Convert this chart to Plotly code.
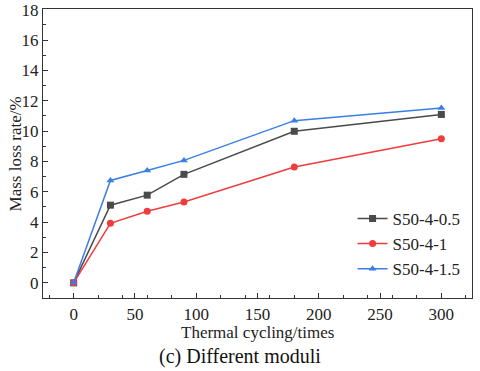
import plotly.graph_objects as go

cycles = [0, 30, 60, 90, 180, 300]
s05 = [0.0, 5.12, 5.78, 7.15, 9.99, 11.1]
s1 = [0.0, 3.92, 4.72, 5.33, 7.63, 9.49]
s15 = [0.0, 6.75, 7.41, 8.07, 10.69, 11.52]

names = ["S50-4-0.5", "S50-4-1", "S50-4-1.5"]
colors = ["#4a4a4a", "#f03c3c", "#3a7ee6"]
symbols = ["square", "circle", "triangle-up"]

fig = go.Figure()
for name, ys, c, s in zip(names, [s05, s1, s15], colors, symbols):
    fig.add_trace(go.Scatter(x=cycles, y=ys, name=name, mode="lines+markers",
                             line=dict(color=c, width=1.5),
                             marker=dict(symbol=s, size=7, color=c)))

font = "Liberation Serif"
axis_common = dict(showline=True, linecolor="#333", linewidth=1.2, mirror=True,
                   ticks="inside", ticklen=5, tickcolor="#333", showgrid=False,
                   zeroline=False, automargin=False,
                   tickfont=dict(family=font, size=17, color="#222"),
                   minor=dict(ticks="inside", ticklen=3, tickcolor="#333"))

fig.update_xaxes(range=[-25, 325], tickvals=[0, 50, 100, 150, 200, 250, 300], **axis_common)
fig.update_yaxes(range=[-1, 18.05], tickvals=list(range(0, 19, 2)), **axis_common)

# axis titles and caption as annotations so they sit like the original
fig.add_annotation(text="Thermal cycling/times", xref="paper", yref="paper", x=0.5, y=-0.12,
                   showarrow=False, yanchor="middle", font=dict(family=font, size=17, color="#222"))
fig.add_annotation(text="Mass loss rate/%", xref="paper", yref="paper", x=-0.063, y=0.5,
                   textangle=-90, showarrow=False, xanchor="center", yanchor="middle",
                   font=dict(family=font, size=17, color="#222"))
fig.add_annotation(text="(c) Different moduli", xref="paper", yref="paper", x=0.46, y=-0.203,
                   showarrow=False, yanchor="middle", font=dict(family=font, size=20, color="#111"))

fig.update_layout(width=480, height=371, margin=dict(l=43, r=8, t=9, b=73, autoexpand=False),
                  plot_bgcolor="white", paper_bgcolor="white",
                  font=dict(family=font),
                  legend=dict(x=0.985, y=0.187, xanchor="right", yanchor="middle",
                              font=dict(family=font, size=17, color="#222"),
                              bgcolor="rgba(0,0,0,0)", tracegroupgap=0),
                  showlegend=True)

# drop the browser's default body margin so the figure fills the window
fig.write_html("out.html", config={"displayModeBar": False},
               post_script="document.body.style.margin='0';")
